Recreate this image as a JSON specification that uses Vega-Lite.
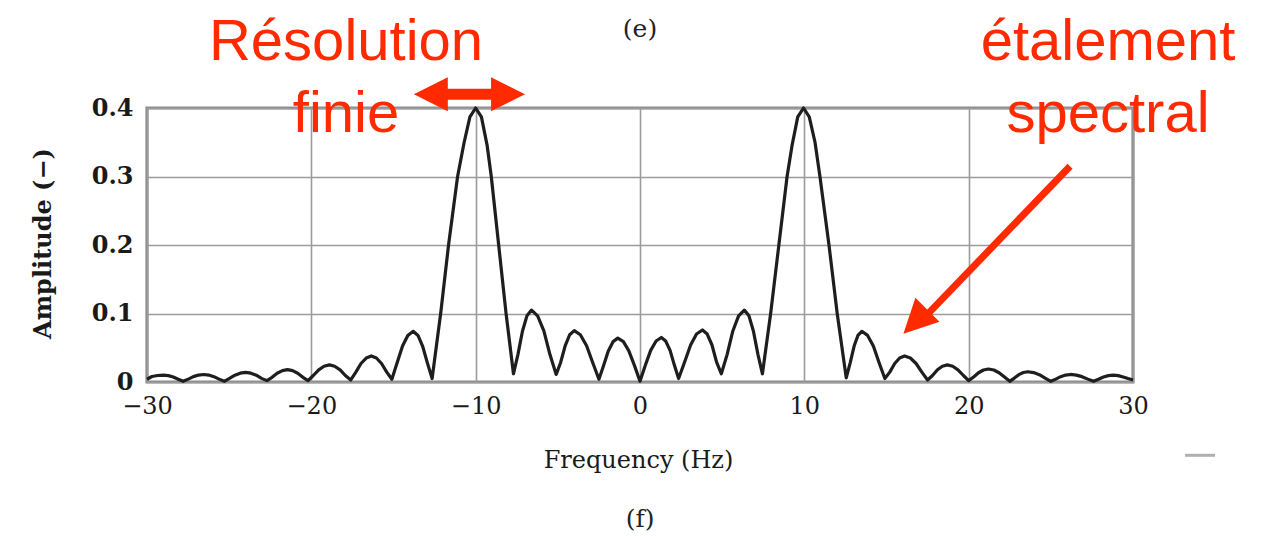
{
  "$schema": "https://vega.github.io/schema/vega-lite/v6.json",
  "width": 986,
  "height": 274,
  "autosize": {"type": "none"},
  "padding": {"left": 147, "top": 108, "right": 134, "bottom": 154},
  "background": "white",
  "config": {
    "view": {"stroke": "#8c8c8c", "strokeWidth": 3.2},
    "axis": {"gridColor": "#9c9c9c", "gridWidth": 1.6, "gridOpacity": 1, "domain": false, "ticks": false}
  },
  "datasets": {
    "curve": [
      {"f": -30, "v": 0.004}, {"f": -29.7, "v": 0.008}, {"f": -29.35, "v": 0.0095}, {"f": -29.0, "v": 0.010}, {"f": -28.7, "v": 0.0093}, {"f": -28.4, "v": 0.0072}, {"f": -28.1, "v": 0.004}, {"f": -27.8, "v": 0.001},
      {"f": -27.49, "v": 0.0042}, {"f": -27.18, "v": 0.0078}, {"f": -26.86, "v": 0.0101}, {"f": -26.55, "v": 0.011}, {"f": -26.24, "v": 0.0101}, {"f": -25.93, "v": 0.0078}, {"f": -25.61, "v": 0.0042}, {"f": -25.3, "v": 0.001},
      {"f": -24.98, "v": 0.0053}, {"f": -24.65, "v": 0.0099}, {"f": -24.33, "v": 0.0129}, {"f": -24.0, "v": 0.014}, {"f": -23.68, "v": 0.0129}, {"f": -23.35, "v": 0.0099}, {"f": -23.03, "v": 0.0053}, {"f": -22.7, "v": 0.002},
      {"f": -22.39, "v": 0.0068}, {"f": -22.08, "v": 0.0128}, {"f": -21.76, "v": 0.0166}, {"f": -21.45, "v": 0.018}, {"f": -21.14, "v": 0.0166}, {"f": -20.83, "v": 0.0128}, {"f": -20.51, "v": 0.0068}, {"f": -20.2, "v": 0.002},
      {"f": -19.88, "v": 0.0095}, {"f": -19.55, "v": 0.0178}, {"f": -19.23, "v": 0.023}, {"f": -18.9, "v": 0.025}, {"f": -18.58, "v": 0.023}, {"f": -18.25, "v": 0.0178}, {"f": -17.93, "v": 0.0095}, {"f": -17.6, "v": 0.003},
      {"f": -17.29, "v": 0.0144}, {"f": -16.98, "v": 0.027}, {"f": -16.66, "v": 0.035}, {"f": -16.35, "v": 0.038}, {"f": -16.04, "v": 0.035}, {"f": -15.73, "v": 0.027}, {"f": -15.41, "v": 0.0144}, {"f": -15.1, "v": 0.004},
      {"f": -14.78, "v": 0.028}, {"f": -14.45, "v": 0.0525}, {"f": -14.13, "v": 0.068}, {"f": -13.8, "v": 0.074}, {"f": -13.51, "v": 0.068}, {"f": -13.23, "v": 0.0525}, {"f": -12.94, "v": 0.028}, {"f": -12.65, "v": 0.005},
      {"f": -12.13, "v": 0.1}, {"f": -11.65, "v": 0.2}, {"f": -11.1, "v": 0.3}, {"f": -10.7, "v": 0.35}, {"f": -10.35, "v": 0.387}, {"f": -10.0, "v": 0.4},
      {"f": -9.65, "v": 0.387}, {"f": -9.3, "v": 0.345}, {"f": -9.05, "v": 0.3}, {"f": -8.6, "v": 0.2}, {"f": -8.15, "v": 0.1}, {"f": -7.7, "v": 0.012},
      {"f": -7.43, "v": 0.04}, {"f": -7.15, "v": 0.0745}, {"f": -6.88, "v": 0.0966}, {"f": -6.6, "v": 0.105}, {"f": -6.23, "v": 0.0966}, {"f": -5.85, "v": 0.0745}, {"f": -5.48, "v": 0.04}, {"f": -5.1, "v": 0.011},
      {"f": -4.83, "v": 0.0285}, {"f": -4.55, "v": 0.053}, {"f": -4.28, "v": 0.069}, {"f": -4.0, "v": 0.075}, {"f": -3.63, "v": 0.069}, {"f": -3.25, "v": 0.053}, {"f": -2.88, "v": 0.0285}, {"f": -2.5, "v": 0.004},
      {"f": -2.21, "v": 0.0243}, {"f": -1.93, "v": 0.0454}, {"f": -1.64, "v": 0.0589}, {"f": -1.35, "v": 0.064}, {"f": -1.01, "v": 0.0589}, {"f": -0.68, "v": 0.0454}, {"f": -0.34, "v": 0.0243}, {"f": 0.0, "v": 0.001},
      {"f": 0.33, "v": 0.0247}, {"f": 0.65, "v": 0.0462}, {"f": 0.98, "v": 0.0598}, {"f": 1.3, "v": 0.065}, {"f": 1.56, "v": 0.0598}, {"f": 1.83, "v": 0.0462}, {"f": 2.09, "v": 0.0247}, {"f": 2.35, "v": 0.005},
      {"f": 2.71, "v": 0.0289}, {"f": 3.08, "v": 0.054}, {"f": 3.44, "v": 0.07}, {"f": 3.8, "v": 0.076}, {"f": 4.09, "v": 0.07}, {"f": 4.38, "v": 0.054}, {"f": 4.66, "v": 0.0289}, {"f": 4.95, "v": 0.012},
      {"f": 5.3, "v": 0.04}, {"f": 5.65, "v": 0.0745}, {"f": 6.0, "v": 0.0966}, {"f": 6.35, "v": 0.105}, {"f": 6.63, "v": 0.0966}, {"f": 6.9, "v": 0.0745}, {"f": 7.18, "v": 0.04}, {"f": 7.45, "v": 0.012},
      {"f": 7.95, "v": 0.1}, {"f": 8.45, "v": 0.2}, {"f": 8.95, "v": 0.3}, {"f": 9.25, "v": 0.345}, {"f": 9.6, "v": 0.387}, {"f": 9.95, "v": 0.4},
      {"f": 10.3, "v": 0.387}, {"f": 10.65, "v": 0.35}, {"f": 10.95, "v": 0.3}, {"f": 11.5, "v": 0.2}, {"f": 12.0, "v": 0.1}, {"f": 12.55, "v": 0.006},
      {"f": 12.79, "v": 0.028}, {"f": 13.03, "v": 0.0525}, {"f": 13.26, "v": 0.068}, {"f": 13.5, "v": 0.074}, {"f": 13.85, "v": 0.068}, {"f": 14.2, "v": 0.0525}, {"f": 14.55, "v": 0.028}, {"f": 14.9, "v": 0.005},
      {"f": 15.2, "v": 0.0144}, {"f": 15.5, "v": 0.027}, {"f": 15.8, "v": 0.035}, {"f": 16.1, "v": 0.038}, {"f": 16.45, "v": 0.035}, {"f": 16.8, "v": 0.027}, {"f": 17.15, "v": 0.0144}, {"f": 17.5, "v": 0.003},
      {"f": 17.8, "v": 0.0095}, {"f": 18.1, "v": 0.0178}, {"f": 18.4, "v": 0.023}, {"f": 18.7, "v": 0.025}, {"f": 19.03, "v": 0.023}, {"f": 19.35, "v": 0.0178}, {"f": 19.68, "v": 0.0095}, {"f": 20.0, "v": 0.002},
      {"f": 20.3, "v": 0.0072}, {"f": 20.6, "v": 0.0135}, {"f": 20.9, "v": 0.0175}, {"f": 21.2, "v": 0.019}, {"f": 21.53, "v": 0.0175}, {"f": 21.85, "v": 0.0135}, {"f": 22.18, "v": 0.0072}, {"f": 22.5, "v": 0.001},
      {"f": 22.78, "v": 0.0057}, {"f": 23.05, "v": 0.0107}, {"f": 23.33, "v": 0.0138}, {"f": 23.6, "v": 0.015}, {"f": 23.95, "v": 0.0138}, {"f": 24.3, "v": 0.0107}, {"f": 24.65, "v": 0.0057}, {"f": 25.0, "v": 0.001},
      {"f": 25.3, "v": 0.0042}, {"f": 25.6, "v": 0.0078}, {"f": 25.9, "v": 0.0101}, {"f": 26.2, "v": 0.011}, {"f": 26.55, "v": 0.0101}, {"f": 26.9, "v": 0.0078}, {"f": 27.25, "v": 0.0042}, {"f": 27.6, "v": 0.001},
      {"f": 27.9, "v": 0.004}, {"f": 28.2, "v": 0.0072}, {"f": 28.5, "v": 0.0093}, {"f": 28.8, "v": 0.010}, {"f": 29.1, "v": 0.0093}, {"f": 29.4, "v": 0.0072}, {"f": 29.7, "v": 0.005}, {"f": 30, "v": 0.003}
    ],
    "redText": [
      {"f": -17.89, "v": 0.470, "label": "Résolution"},
      {"f": -17.89, "v": 0.365, "label": "finie"},
      {"f": 28.48, "v": 0.470, "label": "étalement"},
      {"f": 28.48, "v": 0.365, "label": "spectral"}
    ],
    "capText": [
      {"f": 0.0, "v": 0.504, "label": "(e)"},
      {"f": 0.0, "v": -0.212, "label": "(f)"}
    ],
    "hShaft": [{"f": -11.9, "f2": -8.9, "v": 0.42}],
    "dShaft": [{"f": 26.17, "v": 0.315, "f2": 17.3, "v2": 0.094}],
    "headLeft": [{"f": -12.73, "v": 0.42}],
    "headRight": [{"f": -8.03, "v": 0.42}],
    "headDiag": [{"f": 16.76, "v": 0.088}],
    "dash": [{"f": 33.17, "f2": 34.99, "v": -0.107}]
  },
  "encoding": {
    "x": {
      "field": "f", "type": "quantitative",
      "scale": {"domain": [-30, 30], "nice": false, "zero": false},
      "axis": {
        "values": [-30, -20, -10, 0, 10, 20, 30],
        "labelFont": "DejaVu Serif", "labelFontSize": 24, "labelColor": "#1a1a1a",
        "labelPadding": 12, "labelFlush": false, "labelBound": false, "labelOverlap": false,
        "title": "Frequency (Hz)", "titleFont": "DejaVu Serif", "titleFontSize": 24, "titleFontWeight": "normal",
        "titleColor": "#1a1a1a", "titleX": 491, "titleY": 85, "titleBaseline": "alphabetic", "titleAlign": "center"
      }
    },
    "y": {
      "field": "v", "type": "quantitative",
      "scale": {"domain": [0, 0.4], "nice": false, "zero": false},
      "axis": {
        "values": [0, 0.1, 0.2, 0.3, 0.4], "format": ".1~f",
        "labelFont": "DejaVu Serif", "labelFontSize": 24, "labelFontWeight": "bold", "labelColor": "#1a1a1a",
        "labelPadding": 14, "labelOverlap": false, "labelFlush": false, "labelBound": false,
        "title": "Amplitude (−)", "titleFont": "DejaVu Serif", "titleFontSize": 24, "titleFontWeight": "bold",
        "titleColor": "#1a1a1a", "titleAngle": -90, "titleX": -104, "titleY": 135, "titleBaseline": "middle", "titleAlign": "center"
      }
    }
  },
  "layer": [
    {
      "data": {"name": "curve"},
      "mark": {"type": "line", "color": "#1e1e1e", "strokeWidth": 3.2, "strokeJoin": "round", "interpolate": "linear"}
    },
    {
      "data": {"name": "redText"},
      "mark": {"type": "text", "font": "Liberation Sans", "fontSize": 58, "color": "#ff2a00", "align": "center", "baseline": "alphabetic"},
      "encoding": {"text": {"field": "label"}}
    },
    {
      "data": {"name": "capText"},
      "mark": {"type": "text", "font": "DejaVu Serif", "fontSize": 25, "color": "#222222", "align": "center", "baseline": "alphabetic"},
      "encoding": {"text": {"field": "label"}}
    },
    {
      "data": {"name": "hShaft"},
      "mark": {"type": "rule", "color": "#ff2a00", "strokeWidth": 11, "strokeCap": "butt"},
      "encoding": {"x2": {"field": "f2"}}
    },
    {
      "data": {"name": "dShaft"},
      "mark": {"type": "rule", "color": "#ff2a00", "strokeWidth": 7, "strokeCap": "butt"},
      "encoding": {"x2": {"field": "f2"}, "y2": {"field": "v2"}}
    },
    {
      "data": {"name": "headLeft"},
      "mark": {"type": "point", "shape": "M-1,0L1,-1L1,1Z", "size": 1156, "filled": true, "color": "#ff2a00", "opacity": 1, "strokeWidth": 0}
    },
    {
      "data": {"name": "headRight"},
      "mark": {"type": "point", "shape": "M-1,0L1,-1L1,1Z", "size": 1156, "filled": true, "color": "#ff2a00", "opacity": 1, "strokeWidth": 0, "angle": 180}
    },
    {
      "data": {"name": "headDiag"},
      "mark": {"type": "point", "shape": "M-1,0L1,-1L1,1Z", "size": 1156, "filled": true, "color": "#ff2a00", "opacity": 1, "strokeWidth": 0, "angle": 315}
    },
    {
      "data": {"name": "dash"},
      "mark": {"type": "rule", "color": "#b0b0b0", "strokeWidth": 3},
      "encoding": {"x2": {"field": "f2"}}
    }
  ]
}
